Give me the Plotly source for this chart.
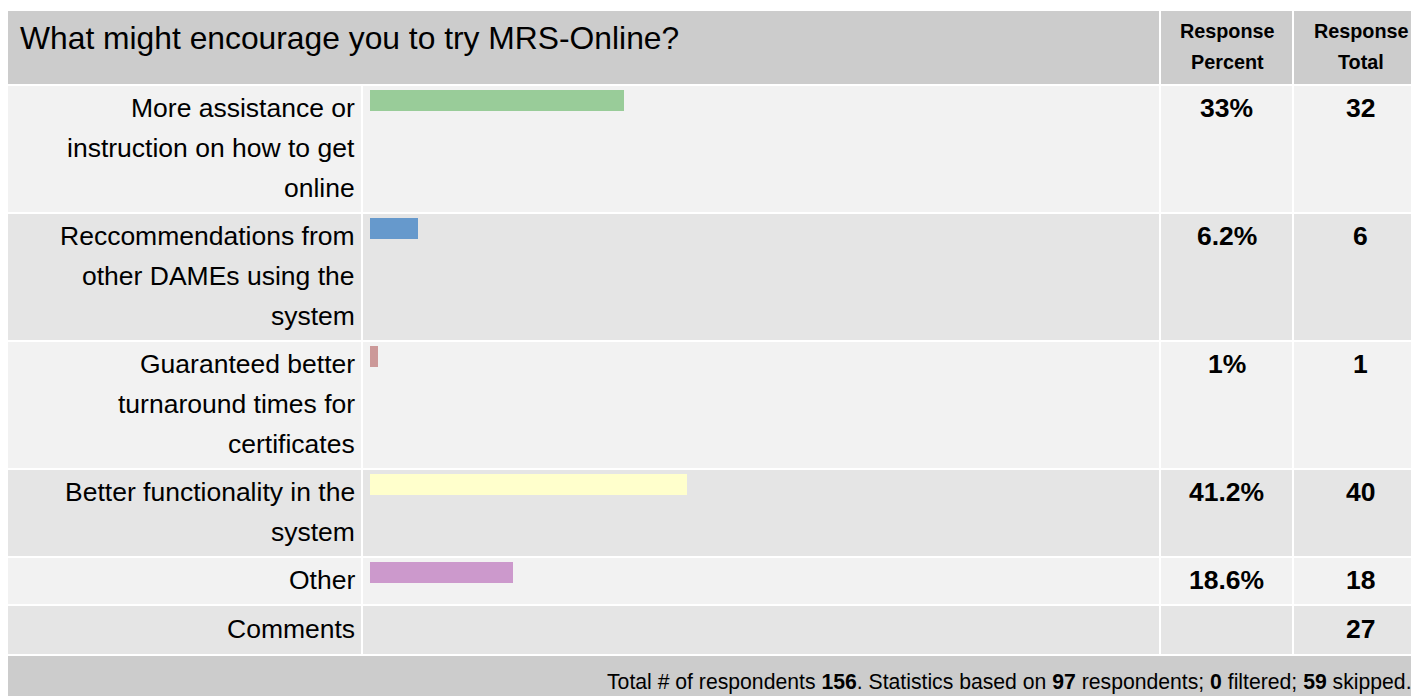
import plotly.graph_objects as go

# ---------------- data ----------------
title = "What might encourage you to try MRS-Online?"
categories = [
    "More assistance or<br>instruction on how to get<br>online",
    "Reccommendations from<br>other DAMEs using the<br>system",
    "Guaranteed better<br>turnaround times for<br>certificates",
    "Better functionality in the<br>system",
    "Other",
]
percents = [33, 6.2, 1, 41.2, 18.6]
totals = [32, 6, 1, 40, 18]
comments_label = "Comments"
comments_total = 27
bar_colors = ["#99cc99", "#6699cc", "#cc9999", "#ffffcc", "#cc99cc"]
header_cols = ["Response<br>Percent", "Response<br>Total"]
total_respondents = 156
based_on = 97
filtered = 0
skipped = 59

# ---------------- layout geometry (page pixels) ----------------
OFF = 8                      # default page body margin
W, H = 1419 - OFF, 696 - OFF
FONT = "Liberation Sans, Arial, sans-serif"
LEFT = 8
COL_LABEL = (8, 361)
COL_BAR = (363, 1159)
COL_PCT = (1161, 1292)
COL_TOT = (1294, 1430)
TOT_CENTER = 1360
HEADER = (11, 84)
ROWS = [(86, 212), (214, 340), (342, 468), (470, 556), (558, 604)]
COMMENT_ROW = (606, 654)
FOOTER = (656, 710)
ROW_FILLS = ["#f2f2f2", "#e5e5e5"]
BAR_X0, BAR_X100 = 369.5, 1139.5
BAR_OFFSET, BAR_H = 4, 21
LINE_SP = 40
FIRST_LINE = 22
LABEL_RIGHT = 357


def px(x):
    return (x - OFF) / W


def py(y):
    return 1 - (y - OFF) / H


shapes = []


def rect(x0, x1, y0, y1, color):
    shapes.append(dict(type="rect", xref="paper", yref="paper",
                       x0=px(x0), x1=px(x1), y0=py(y1), y1=py(y0),
                       fillcolor=color, line=dict(width=0), layer="below"))


annotations = []


def text(x, y, s, size, anchor="center", color="#000000"):
    annotations.append(dict(xref="paper", yref="paper", x=px(x), y=py(y),
                            text=s, showarrow=False, xanchor=anchor,
                            yanchor="middle",
                            font=dict(family=FONT, size=size, color=color)))


# header
rect(COL_LABEL[0], COL_BAR[1], HEADER[0], HEADER[1], "#cccccc")
rect(COL_PCT[0], COL_PCT[1], HEADER[0], HEADER[1], "#cccccc")
rect(COL_TOT[0], COL_TOT[1], HEADER[0], HEADER[1], "#cccccc")
text(18, 38, title, 31.8, anchor="left")
for cx, h in zip([(COL_PCT[0] + COL_PCT[1]) / 2 + 1, TOT_CENTER + 1], header_cols):
    for i, line in enumerate(h.split("<br>")):
        text(cx, 31 + i * 31, f"<b>{line}</b>", 19.8)

fig = go.Figure()

layout_axes = {}
for i, (cat, p, t, col) in enumerate(zip(categories, percents, totals, bar_colors)):
    r0, r1 = ROWS[i]
    fill = ROW_FILLS[i % 2]
    for c0, c1 in [COL_LABEL, COL_BAR, COL_PCT, COL_TOT]:
        rect(c0, c1, r0, r1, fill)
    for j, line in enumerate(cat.split("<br>")):
        text(LABEL_RIGHT, r0 + FIRST_LINE + j * LINE_SP, line, 26.5, anchor="right")
    text((COL_PCT[0] + COL_PCT[1]) / 2, r0 + FIRST_LINE, f"<b>{p:g}%</b>", 26.5)
    text(TOT_CENTER, r0 + FIRST_LINE, f"<b>{t}</b>", 26.5)

    yname = "y" if i == 0 else f"y{i + 1}"
    key = "yaxis" if i == 0 else f"yaxis{i + 1}"
    b0 = r0 + BAR_OFFSET
    b1 = b0 + BAR_H
    layout_axes[key] = dict(domain=[py(b1), py(b0)], range=[-0.5, 0.5],
                            visible=False, anchor="x", fixedrange=True)
    fig.add_trace(go.Bar(x=[p], y=[0], orientation="h", width=1,
                         marker=dict(color=col, line=dict(width=0)),
                         xaxis="x", yaxis=yname, hoverinfo="skip",
                         showlegend=False))

# comments row
r0, r1 = COMMENT_ROW
fill = ROW_FILLS[len(ROWS) % 2]
for c0, c1 in [COL_LABEL, COL_BAR, COL_PCT, COL_TOT]:
    rect(c0, c1, r0, r1, fill)
text(LABEL_RIGHT, r0 + FIRST_LINE + 1, comments_label, 26.5, anchor="right")
text(TOT_CENTER, r0 + FIRST_LINE + 1, f"<b>{comments_total}</b>", 26.5)

# footer
rect(LEFT, COL_TOT[1], FOOTER[0], FOOTER[1], "#cccccc")
footer = (f"Total # of respondents <b>{total_respondents}</b>. Statistics based on "
          f"<b>{based_on}</b> respondents; <b>{filtered}</b> filtered; "
          f"<b>{skipped}</b> skipped.")
text(1414, 682, footer, 21.2, anchor="right")

fig.update_layout(
    width=W, height=H,
    margin=dict(l=0, r=0, t=0, b=0),
    paper_bgcolor="#ffffff", plot_bgcolor="rgba(0,0,0,0)",
    xaxis=dict(domain=[px(BAR_X0), px(BAR_X100)], range=[0, 100],
               visible=False, fixedrange=True, anchor="y"),
    shapes=shapes, annotations=annotations,
    bargap=0, showlegend=False,
    **layout_axes,
)

fig.write_html("out.html", config=dict(displayModeBar=False))
